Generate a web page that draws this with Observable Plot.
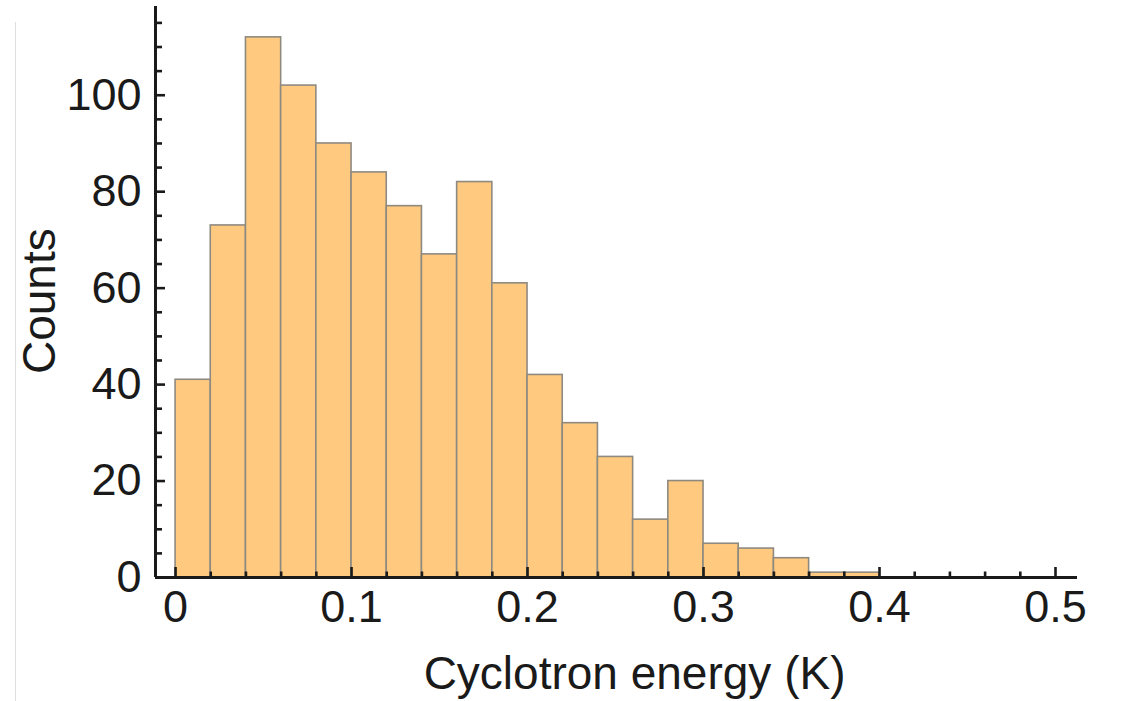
<!DOCTYPE html>
<html>
<head>
<meta charset="utf-8">
<script src="https://cdn.jsdelivr.net/npm/d3@7"></script>
<script src="https://cdn.jsdelivr.net/npm/@observablehq/plot@0.6"></script>
<style>
  html, body { margin: 0; padding: 0; background: #fff; }
  #wrap { position: relative; width: 1127px; height: 701px; overflow: hidden; }
  #edge { position: absolute; left: 15px; top: 22px; width: 0; height: 700px; border-left: 1px solid #dedede; }
  #chart { position: absolute; left: 0; top: 0; }
  svg { font-family: "Liberation Sans", Arial, sans-serif; }
</style>
</head>
<body>
<div id="wrap"><div id="edge"></div><div id="chart"></div></div>
<script>
// Histogram of cyclotron energies (K), bin width 0.02
const binStarts = [0, 0.02, 0.04, 0.06, 0.08, 0.10, 0.12, 0.14, 0.16, 0.18, 0.20, 0.22, 0.24, 0.26, 0.28, 0.30, 0.32, 0.34, 0.36, 0.38];
const counts    = [41, 73, 112, 102, 90, 84, 77, 67, 82, 61, 42, 32, 25, 12, 20, 7, 6, 4, 1, 1];
const binWidth = 0.02;
const xTickLabels = [0, 0.1, 0.2, 0.3, 0.4, 0.5];
const xMinorTicks = d3.range(0, 26).map(i => +(i * 0.02).toFixed(2));
const yTickLabels = [0, 20, 40, 60, 80, 100];
const yMinorTicks = d3.range(0, 24).map(i => i * 5);
const xLabel = "Cyclotron energy (K)";
const yLabel = "Counts";

const bins = binStarts.map((x, i) => ({x1: x, x2: +(x + binWidth).toFixed(2), count: counts[i]}));

const xDomain = [-0.0114, 0.5125];
const yDomain = [0, 118.4];
const pxPerX = 1760, pxPerY = 4.824;

const chart = Plot.plot({
  width: 1127,
  height: 701,
  marginLeft: 155,
  marginRight: 50,
  marginTop: 6,
  marginBottom: 124,
  style: {fontFamily: "'Liberation Sans', Arial, sans-serif", background: "transparent", overflow: "visible"},
  x: {domain: xDomain},
  y: {domain: yDomain},
  marks: [
    Plot.rectY(bins, {x1: "x1", x2: "x2", y: "count", fill: "#ffca7f", stroke: "#8f8a80", strokeWidth: 1.6}),
    // axis lines
    Plot.ruleY([0], {stroke: "#1a1a1a", strokeWidth: 3}),
    Plot.ruleX([xDomain[0]], {stroke: "#1a1a1a", strokeWidth: 3}),
    // x ticks (inward)
    Plot.ruleX(xMinorTicks, {x: d => d, y1: 0, y2: d => (Math.abs(d * 10 - Math.round(d * 10)) < 1e-9 ? 10 : 5.5) / pxPerY, stroke: "#1a1a1a", strokeWidth: 2.6}),
    // y ticks (inward)
    Plot.ruleY(yMinorTicks, {y: d => d, x1: xDomain[0], x2: d => xDomain[0] + (d % 20 === 0 ? 10 : 7) / pxPerX, stroke: "#1a1a1a", strokeWidth: 2.6}),
    Plot.axisX(xTickLabels, {tickSize: 0, tickPadding: 13, fontSize: 45, fill: "#1a1a1a", label: null, tickFormat: d => String(d)}),
    Plot.axisY(yTickLabels, {tickSize: 0, tickPadding: 14, fontSize: 45, fill: "#1a1a1a", label: null, tickFormat: d => String(d)}),
    Plot.text([xLabel], {x: 0.2608, y: -20.0, text: d => d, textAnchor: "middle", lineAnchor: "middle", fontSize: 46, fill: "#1a1a1a", clip: false}),
    Plot.text([yLabel], {x: -0.0767, y: 57.3, text: d => d, textAnchor: "middle", lineAnchor: "middle", rotate: -90, fontSize: 46, fill: "#1a1a1a", clip: false})
  ]
});
document.getElementById("chart").appendChild(chart);
</script>
</body>
</html>
